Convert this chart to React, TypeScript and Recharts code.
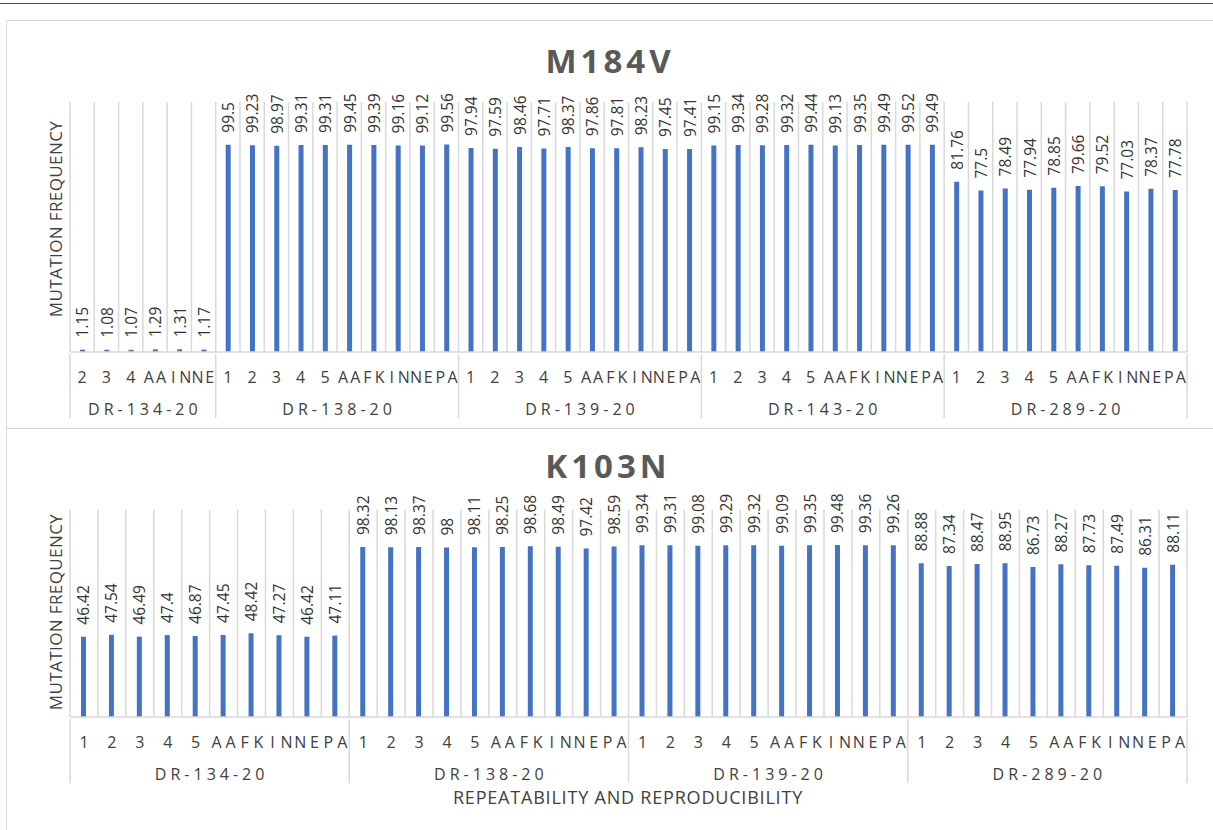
import React from 'react';
import { BarChart, Bar, XAxis, YAxis, CartesianGrid, LabelList } from 'recharts';

const W = 1213;
const H = 830;
const PLOT_LEFT = 70;
const PLOT_RIGHT = 1187;
const AXIS_H = 70;

const BLUE = '#4472C4';
const GRID = '#d9d9d9';
const TITLE = '#595959';
const TEXT = '#404040';
const LABEL = '#333333';
const FONT = '"Open Sans", "Noto Sans", sans-serif';

// run labels under each sample
const runLabels = ['1', '2', '3', '4', '5', 'AA', 'FK', 'IN', 'NE', 'PA'];
const m184vFirstRuns = ['2', '3', '4', 'AA', 'IN', 'NE'];

// M184V
const m184vSamples = ['DR-134-20', 'DR-138-20', 'DR-139-20', 'DR-143-20', 'DR-289-20'];
const m184v134 = [1.15, 1.08, 1.07, 1.29, 1.31, 1.17];
const m184v138 = [99.5, 99.23, 98.97, 99.31, 99.31, 99.45, 99.39, 99.16, 99.12, 99.56];
const m184v139 = [97.94, 97.59, 98.46, 97.71, 98.37, 97.86, 97.81, 98.23, 97.45, 97.41];
const m184v143 = [99.15, 99.34, 99.28, 99.32, 99.44, 99.13, 99.35, 99.49, 99.52, 99.49];
const m184v289 = [81.76, 77.5, 78.49, 77.94, 78.85, 79.66, 79.52, 77.03, 78.37, 77.78];

// K103N
const k103nSamples = ['DR-134-20', 'DR-138-20', 'DR-139-20', 'DR-289-20'];
const k103n134 = [46.42, 47.54, 46.49, 47.4, 46.87, 47.45, 48.42, 47.27, 46.42, 47.11];
const k103n138 = [98.32, 98.13, 98.37, 98, 98.11, 98.25, 98.68, 98.49, 97.42, 98.59];
const k103n139 = [99.34, 99.31, 99.08, 99.29, 99.32, 99.09, 99.35, 99.48, 99.36, 99.26];
const k103n289 = [88.88, 87.34, 88.47, 88.95, 86.73, 88.27, 87.73, 87.49, 86.31, 88.11];

type Row = {
  key: string;
  run: string;
  sample: string;
  value: number;
  first: boolean;
  size: number;
  last: boolean;
};

function buildRows(samples: string[], runs: string[][], values: number[][]): Row[] {
  const rows: Row[] = [];
  samples.forEach((sample, g) => {
    values[g].forEach((value, i) => {
      rows.push({
        key: `${sample}:${i}`,
        run: runs[g][i],
        sample,
        value,
        first: i === 0,
        size: values[g].length,
        last: false,
      });
    });
  });
  rows[rows.length - 1].last = true;
  return rows;
}

const m184vRows = buildRows(
  m184vSamples,
  [m184vFirstRuns, runLabels, runLabels, runLabels, runLabels],
  [m184v134, m184v138, m184v139, m184v143, m184v289]
);

const k103nRows = buildRows(
  k103nSamples,
  [runLabels, runLabels, runLabels, runLabels],
  [k103n134, k103n138, k103n139, k103n289]
);

function RunTick(props: any) {
  const { x, y, index, rows, bw } = props;
  const row: Row = rows[index];
  if (!row) return null;
  const cx = Number(x);
  const ay = Number(y);
  const chars = row.run.split('');
  const pitch = bw / 2;
  return (
    <g>
      {chars.map((c, i) => (
        <text
          key={i}
          x={cx + (i - (chars.length - 1) / 2) * pitch}
          y={ay + 23}
          textAnchor="middle"
          dominantBaseline="central"
          fontSize={16}
          fontFamily={FONT}
          fill={TEXT}
        >
          {c}
        </text>
      ))}
      {row.first && (
        <>
          <line x1={cx - bw / 2} x2={cx - bw / 2} y1={ay} y2={ay + 64} stroke={GRID} strokeWidth={1.5} />
          <text
            x={cx - bw / 2 + (row.size * bw) / 2 + 2}
            y={ay + 55}
            textAnchor="middle"
            dominantBaseline="central"
            fontSize={16}
            letterSpacing={4}
            fontFamily={FONT}
            fill={TEXT}
          >
            {row.sample}
          </text>
        </>
      )}
      {row.last && (
        <line x1={cx + bw / 2} x2={cx + bw / 2} y1={ay} y2={ay + 64} stroke={GRID} strokeWidth={1.5} />
      )}
    </g>
  );
}

function ValueLabel(props: any) {
  const { x, y, width, value } = props;
  const cx = Number(x) + Number(width) / 2;
  const ty = Number(y) - 12;
  return (
    <text
      x={cx}
      y={ty}
      transform={`rotate(-90, ${cx}, ${ty})`}
      textAnchor="start"
      dominantBaseline="central"
      fontSize={15.5}
      fontFamily={FONT}
      fill={LABEL}
    >
      {String(value)}
    </text>
  );
}

function Panel({ rows, top, height, plotTop, plotBottom }: {
  rows: Row[];
  top: number;
  height: number;
  plotTop: number;
  plotBottom: number;
}) {
  const n = rows.length;
  const bw = (PLOT_RIGHT - PLOT_LEFT) / n;
  return (
    <div style={{ position: 'absolute', left: 0, top, width: W, height }}>
      <BarChart
        width={W}
        height={height}
        data={rows}
        margin={{ top: plotTop, right: W - PLOT_RIGHT, left: PLOT_LEFT, bottom: height - plotBottom - AXIS_H }}
      >
        <CartesianGrid
          horizontal={false}
          stroke={GRID}
          strokeWidth={1.5}
          verticalCoordinatesGenerator={(p: any) => {
            const left = p?.offset?.left ?? PLOT_LEFT;
            const w = p?.offset?.width ?? PLOT_RIGHT - PLOT_LEFT;
            return Array.from({ length: n + 1 }, (_, i) => left + (i * w) / n);
          }}
        />
        <XAxis
          dataKey="key"
          interval={0}
          height={AXIS_H}
          tickLine={false}
          tickSize={0}
          axisLine={{ stroke: GRID, strokeWidth: 1.5 }}
          tick={(p: any) => <RunTick {...p} rows={rows} bw={bw} />}
        />
        <YAxis hide domain={[0, 120]} />
        <Bar dataKey="value" fill={BLUE} barSize={5} isAnimationActive={false}>
          <LabelList dataKey="value" content={ValueLabel} />
        </Bar>
      </BarChart>
    </div>
  );
}

export default function App() {
  return (
    <div
      style={{
        position: 'absolute',
        left: 0,
        top: 0,
        width: W,
        height: H,
        background: '#fff',
        overflow: 'hidden',
        fontFamily: FONT,
      }}
    >
      <div style={{ position: 'absolute', left: 0, top: 3, width: W, borderTop: '1.5px solid #4a4a4a' }} />
      <div style={{ position: 'absolute', left: 6, top: 20, width: W, height: 407, border: `1.5px solid ${GRID}` }} />
      <div style={{ position: 'absolute', left: 6, top: 428, width: W, height: 420, border: `1.5px solid ${GRID}` }} />

      <Panel rows={m184vRows} top={0} height={430} plotTop={102} plotBottom={352} />
      <Panel rows={k103nRows} top={428} height={402} plotTop={81.5} plotBottom={289} />

      <svg width={W} height={H} style={{ position: 'absolute', left: 0, top: 0, pointerEvents: 'none' }}>
        <text x={610} y={60} textAnchor="middle" dominantBaseline="central" fontSize={33} fontWeight={700} letterSpacing={4} fontFamily={FONT} fill={TITLE}>
          M184V
        </text>
        <text x={608} y={465} textAnchor="middle" dominantBaseline="central" fontSize={33} fontWeight={700} letterSpacing={4} fontFamily={FONT} fill={TITLE}>
          K103N
        </text>
        <text x={55} y={219} transform="rotate(-90, 55, 219)" textAnchor="middle" dominantBaseline="central" fontSize={17} letterSpacing={0.4} fontFamily={FONT} fill={TEXT}>
          MUTATION FREQUENCY
        </text>
        <text x={55} y={612} transform="rotate(-90, 55, 612)" textAnchor="middle" dominantBaseline="central" fontSize={17} letterSpacing={0.4} fontFamily={FONT} fill={TEXT}>
          MUTATION FREQUENCY
        </text>
        <text x={628} y={797} textAnchor="middle" dominantBaseline="central" fontSize={18} letterSpacing={0.8} fontFamily={FONT} fill={TEXT}>
          REPEATABILITY AND REPRODUCIBILITY
        </text>
      </svg>
    </div>
  );
}
